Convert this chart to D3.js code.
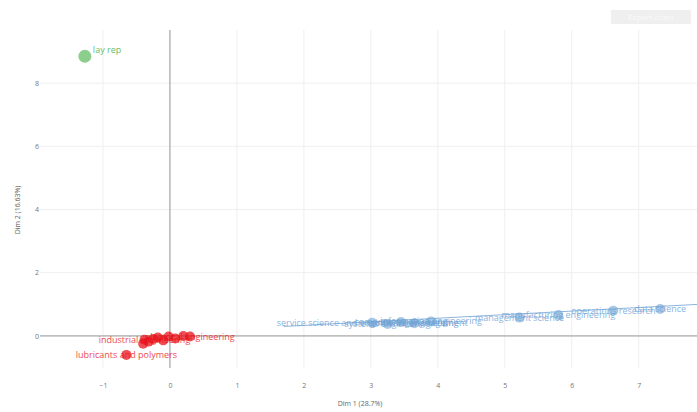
<!DOCTYPE html>
<html><head><meta charset="utf-8">
<script src="https://cdn.jsdelivr.net/npm/d3@7/dist/d3.min.js"></script>
<style>body{margin:0;background:#fff;font-family:"Open Sans",sans-serif;}</style>
</head><body><svg id="c" width="697" height="412"></svg>
<script>
const names = ["lay rep","lubricants and polymers","industrial engineering","electrical engineering","materials","chemistry","physics","mathematics","mechanics","biology","geology","energy",
"service science and engineering management","systems engineering","computer engineering","software engineering","information engineering","management science","manufacturing engineering","operations research","data science"];
const dim1 = [-1.27,-0.65,-0.38,0.3,-0.4,-0.32,-0.25,-0.18,-0.1,-0.02,0.08,0.2,3.02,3.25,3.45,3.65,3.9,5.22,5.8,6.62,7.32];
const dim2 = [8.85,-0.6,-0.12,-0.02,-0.25,-0.18,-0.1,-0.05,-0.14,-0.02,-0.08,0.0,0.42,0.38,0.44,0.4,0.46,0.58,0.66,0.8,0.85];
const groups = ["g","r","r","r","r","r","r","r","r","r","r","r","b","b","b","b","b","b","b","b","b"];
const showLabel = [1,1,1,1,0,0,0,0,0,0,0,0,1,1,1,1,1,1,1,1,1];
const xTicks = [-1,0,1,2,3,4,5,6,7];
const yTicks = [0,2,4,6,8];
const lineX = [1.7,7.9];
const lineY = [0.3,1.0];
const xTitle = "Dim 1 (28.7%)";
const yTitle = "Dim 2 (16.63%)";

const svg = d3.select("#c");
const x = d3.scaleLinear().domain([-1.94,7.87]).range([40,697]);
const y = d3.scaleLinear().domain([-0.92,9.68]).range([365,30]);
const col = {g:"#3fae3f", r:"#e8141c", b:"#6fa3d6"};

// grid
svg.append("g").selectAll("line").data(xTicks).join("line")
  .attr("x1",d=>x(d)).attr("x2",d=>x(d)).attr("y1",30).attr("y2",368)
  .attr("stroke","#efefef").attr("stroke-width",1);
svg.append("g").selectAll("line").data(yTicks).join("line")
  .attr("x1",40).attr("x2",697).attr("y1",d=>y(d)).attr("y2",d=>y(d))
  .attr("stroke","#efefef").attr("stroke-width",1);

// axes
const xa = svg.append("g").attr("transform","translate(0,380)")
  .call(d3.axisBottom(x).tickValues(xTicks).tickSize(0).tickFormat(d3.format("d")));
xa.select(".domain").remove();
xa.selectAll("text").attr("fill","#777").attr("font-size",7).attr("font-family","Open Sans");
const ya = svg.append("g").attr("transform","translate(42,0)")
  .call(d3.axisLeft(y).tickValues(yTicks).tickSize(0).tickFormat(d3.format("d")));
ya.select(".domain").remove();
ya.selectAll("text").attr("fill","#777").attr("font-size",7).attr("font-family","Open Sans");

// zero lines
svg.append("line").attr("x1",x(0)).attr("x2",x(0)).attr("y1",30).attr("y2",368).attr("stroke","#999").attr("stroke-width",1);
svg.append("line").attr("x1",40).attr("x2",697).attr("y1",y(0)).attr("y2",y(0)).attr("stroke","#999").attr("stroke-width",1);

// titles
svg.append("text").attr("x",360).attr("y",406).attr("text-anchor","middle").attr("font-size",7).attr("fill","#666").text(xTitle);
svg.append("text").attr("transform","translate(20,210) rotate(-90)").attr("text-anchor","middle").attr("font-size",7).attr("fill","#666").text(yTitle);

// top-right box
svg.append("rect").attr("x",611).attr("y",10).attr("width",80).attr("height",14).attr("fill","#efefef");
svg.append("text").attr("x",651).attr("y",20).attr("text-anchor","middle").attr("font-size",8).attr("fill","#fafafa").text("Export chart");

// regression line
svg.append("line").attr("x1",x(lineX[0])).attr("x2",x(lineX[1])).attr("y1",y(lineY[0])).attr("y2",y(lineY[1]))
  .attr("stroke",col.b).attr("stroke-width",1).attr("opacity",0.8);

const idx = d3.range(names.length);
svg.append("g").selectAll("circle").data(idx).join("circle")
  .attr("cx",i=>x(dim1[i])).attr("cy",i=>y(dim2[i]))
  .attr("r",i=>groups[i]==="g"?6.5:5)
  .attr("fill",i=>col[groups[i]]).attr("opacity",i=>groups[i]==="r"?0.75:0.6);

svg.append("g").selectAll("text").data(idx.filter(i=>showLabel[i])).join("text")
  .attr("x",i=>groups[i]==="g"?x(dim1[i])+8:x(dim1[i]))
  .attr("y",i=>groups[i]==="g"?y(dim2[i])-3:y(dim2[i])+3)
  .attr("text-anchor",i=>groups[i]==="g"?"start":"middle")
  .attr("font-size",9).attr("fill",i=>col[groups[i]]).attr("opacity",0.8)
  .text(i=>names[i]);
</script></body></html>
